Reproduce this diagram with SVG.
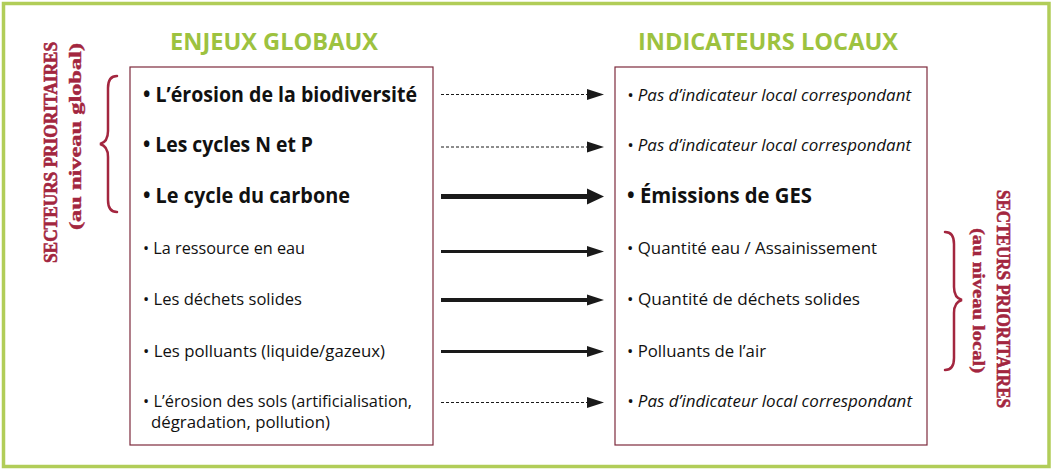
<svg xmlns="http://www.w3.org/2000/svg" width="1055" height="471" viewBox="0 0 1055 471">
  <style>
    .frame { fill: #ffffff; stroke: #b1cd58; stroke-width: 3.5; }
    .box { fill: #ffffff; stroke: #7d2a3c; stroke-width: 1.2; }
    .title { font-family: "Open Sans", "Noto Sans", sans-serif; font-weight: bold; font-size: 23px; fill: #9dc23f; }
    .big { font-family: "Open Sans", "Noto Sans", sans-serif; font-weight: bold; font-size: 20.5px; fill: #111111; }
    .reg { font-family: "Open Sans", "Noto Sans", sans-serif; font-size: 16.5px; fill: #111111; }
    .ita { font-family: "Open Sans", "Noto Sans", sans-serif; font-style: italic; font-size: 16.5px; fill: #111111; }
    .vert1 { font-family: "Liberation Serif", "DejaVu Serif", serif; font-weight: bold; font-size: 18px; fill: #a3263f; stroke: #a3263f; stroke-width: 0.6; }
    .vert2 { font-family: "Liberation Serif", "DejaVu Serif", serif; font-weight: bold; font-size: 16px; fill: #a3263f; stroke: #a3263f; stroke-width: 0.4; }
    .brace { fill: none; stroke: #a3263f; stroke-width: 2.5; stroke-linecap: round; }
    .dash { stroke: #1a1a1a; stroke-width: 1; stroke-dasharray: 3 2; fill: none; }
    .solid { stroke: #1a1a1a; fill: none; }
  </style>
  <defs>
    <marker id="headS" markerUnits="userSpaceOnUse" markerWidth="18" markerHeight="12" refX="0" refY="6" orient="auto">
      <path d="M0,0.5 L17,6 L0,11.5 Z" fill="#1a1a1a"/>
    </marker>
    <marker id="headL" markerUnits="userSpaceOnUse" markerWidth="18" markerHeight="18" refX="0" refY="9" orient="auto">
      <path d="M0,1 L17,9 L0,17 Z" fill="#1a1a1a"/>
    </marker>
  </defs>

  <rect class="frame" x="3.5" y="3.5" width="1045.5" height="463"/>

  <g id="titles">
    <text class="title" x="170" y="50" textLength="208" lengthAdjust="spacingAndGlyphs">ENJEUX GLOBAUX</text>
    <text class="title" x="638" y="50" textLength="260" lengthAdjust="spacingAndGlyphs">INDICATEURS LOCAUX</text>
  </g>

  <g id="global-issues">
    <rect class="box" x="130" y="67" width="303" height="378"/>
    <text class="big" x="143" y="101.5" textLength="274" lengthAdjust="spacingAndGlyphs">• L’érosion de la biodiversité</text>
    <text class="big" x="143" y="151.5" textLength="170" lengthAdjust="spacingAndGlyphs">• Les cycles N et P</text>
    <text class="big" x="143" y="203" textLength="207" lengthAdjust="spacingAndGlyphs">• Le cycle du carbone</text>
    <text class="reg" x="143" y="253.5" textLength="162" lengthAdjust="spacingAndGlyphs">• La ressource en eau</text>
    <text class="reg" x="143" y="305" textLength="159" lengthAdjust="spacingAndGlyphs">• Les déchets solides</text>
    <text class="reg" x="143" y="356.5" textLength="242" lengthAdjust="spacingAndGlyphs">• Les polluants (liquide/gazeux)</text>
    <text class="reg" x="143" y="407" textLength="269" lengthAdjust="spacingAndGlyphs">• L’érosion des sols (artificialisation,</text>
    <text class="reg" x="151" y="428" textLength="179" lengthAdjust="spacingAndGlyphs">dégradation, pollution)</text>
  </g>

  <g id="local-indicators">
    <rect class="box" x="615" y="67" width="312" height="378"/>
    <text class="ita" x="627" y="100.5" textLength="284" lengthAdjust="spacingAndGlyphs">• Pas d’indicateur local correspondant</text>
    <text class="ita" x="627" y="150.5" textLength="284" lengthAdjust="spacingAndGlyphs">• Pas d’indicateur local correspondant</text>
    <text class="big" x="627" y="203" textLength="185" lengthAdjust="spacingAndGlyphs">• Émissions de GES</text>
    <text class="reg" x="627" y="253.5" textLength="250" lengthAdjust="spacingAndGlyphs">• Quantité eau / Assainissement</text>
    <text class="reg" x="627" y="305" textLength="233" lengthAdjust="spacingAndGlyphs">• Quantité de déchets solides</text>
    <text class="reg" x="627" y="356.5" textLength="139" lengthAdjust="spacingAndGlyphs">• Polluants de l’air</text>
    <text class="ita" x="627" y="407" textLength="285" lengthAdjust="spacingAndGlyphs">• Pas d’indicateur local correspondant</text>
  </g>

  <g id="global-sectors">
    <path class="brace" d="M117,76 Q108,76 108,88 L108,131 Q108,142 100,144 Q108,146 108,157 L108,200 Q108,212 117,212"/>
    <text class="vert1" transform="translate(57,263) rotate(-90)" textLength="221" lengthAdjust="spacingAndGlyphs">SECTEURS PRIORITAIRES</text>
    <text class="vert2" transform="translate(80.5,230) rotate(-90)" textLength="187" lengthAdjust="spacingAndGlyphs">(au niveau global)</text>
  </g>

  <g id="local-sectors">
    <path class="brace" d="M945,232 Q954,232 954,244 L954,287 Q954,298 962,300 Q954,302 954,313 L954,358 Q954,370 945,370"/>
    <text class="vert2" transform="translate(973,228) rotate(90)" textLength="145" lengthAdjust="spacingAndGlyphs">(au niveau local)</text>
    <text class="vert1" transform="translate(996.5,190) rotate(90)" textLength="218" lengthAdjust="spacingAndGlyphs">SECTEURS PRIORITAIRES</text>
  </g>

  <g id="connectors">
    <line class="dash" x1="441" y1="94.5" x2="587" y2="94.5" marker-end="url(#headS)"/>
    <line class="dash" x1="441" y1="147" x2="587" y2="147" marker-end="url(#headS)"/>
    <line class="solid" stroke-width="5" x1="441" y1="196.5" x2="587" y2="196.5" marker-end="url(#headL)"/>
    <line class="solid" stroke-width="3" x1="441" y1="251.5" x2="587" y2="251.5" marker-end="url(#headS)"/>
    <line class="solid" stroke-width="4" x1="441" y1="300" x2="587" y2="300" marker-end="url(#headS)"/>
    <line class="solid" stroke-width="3" x1="441" y1="351.5" x2="587" y2="351.5" marker-end="url(#headS)"/>
    <line class="dash" x1="441" y1="402.5" x2="587" y2="402.5" marker-end="url(#headS)"/>
  </g>
</svg>
